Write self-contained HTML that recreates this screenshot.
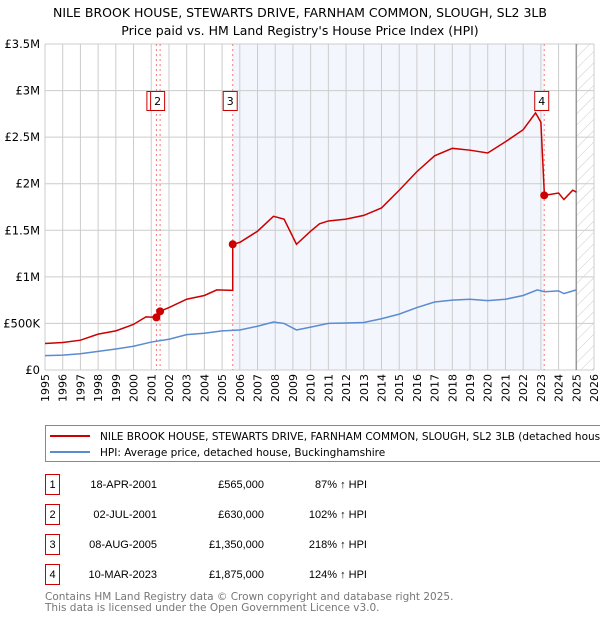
<!DOCTYPE html>
<html><head><meta charset="utf-8"><style>
body{margin:0;background:#fff;width:600px;height:620px;overflow:hidden;font-family:"DejaVu Sans","Liberation Sans",sans-serif;}
</style></head><body>
<svg id="chart" width="600" height="620" xmlns="http://www.w3.org/2000/svg" font-family="DejaVu Sans, Liberation Sans, sans-serif">
<defs><pattern id="hatch" width="8" height="8" patternUnits="userSpaceOnUse" patternTransform="rotate(45)"><line x1="0" y1="0" x2="0" y2="8" stroke="#ccc" stroke-width="1"/></pattern></defs>
<text x="300" y="17" font-size="12.5" text-anchor="middle" fill="#000">NILE BROOK HOUSE, STEWARTS DRIVE, FARNHAM COMMON, SLOUGH, SL2 3LB</text>
<text x="300" y="35" font-size="12.5" text-anchor="middle" fill="#000">Price paid vs. HM Land Registry's House Price Index (HPI)</text>
<g id="plot"></g>
<g>
<rect x="45.5" y="425.5" width="570" height="36" fill="#fff" stroke="#888"/>
<line x1="50" y1="436" x2="90" y2="436" stroke="#cc0000" stroke-width="2"/>
<text x="100" y="440" font-size="10.5">NILE BROOK HOUSE, STEWARTS DRIVE, FARNHAM COMMON, SLOUGH, SL2 3LB (detached house)</text>
<line x1="50" y1="452" x2="90" y2="452" stroke="#5b8bd0" stroke-width="2"/>
<text x="100" y="456" font-size="10.5">HPI: Average price, detached house, Buckinghamshire</text>
</g>
<g id="table" font-size="11" font-family="Liberation Sans, sans-serif"></g>
<text x="45" y="600" font-size="10.5" fill="#777">Contains HM Land Registry data © Crown copyright and database right 2025.</text>
<text x="45" y="611" font-size="10.5" fill="#777">This data is licensed under the Open Government Licence v3.0.</text>
</svg>
<script>
const hpiYears=[1995,1996,1997,1998,1999,2000,2001,2002,2003,2004,2005,2006,2007,2007.9,2008.5,2009.2,2010,2011,2012,2013,2014,2015,2016,2017,2018,2019,2020,2021,2022,2022.8,2023.2,2024,2024.3,2025];
const hpiValues=[155,160,175,200,225,255,300,330,380,395,420,430,470,515,500,430,460,500,505,510,550,600,670,730,750,760,745,760,800,860,840,850,820,860];
const redYears=[1995,1996,1997,1998,1999,2000,2000.7,2001.3,2001.5,2002,2003,2004,2004.7,2005.6,2005.6,2006,2007,2007.9,2008.5,2009.2,2010,2010.5,2011,2012,2013,2014,2015,2016,2017,2018,2019,2020,2021,2022,2022.7,2023.0,2023.2,2024,2024.3,2024.8,2025];
const redValues=[285,295,320,385,420,490,570,565,630,670,760,800,860,855,1350,1370,1490,1650,1620,1350,1490,1570,1600,1620,1660,1740,1930,2130,2300,2380,2360,2330,2450,2580,2760,2660,1875,1900,1830,1930,1910];
const saleLabels=["1","2","3","4"];
const saleYears=[2001.29,2001.5,2005.6,2023.19];
const saleValues=[565,630,1350,1875];
const saleDates=["18-APR-2001","02-JUL-2001","08-AUG-2005","10-MAR-2023"];
const salePrices=["£565,000","£630,000","£1,350,000","£1,875,000"];
const saleHpi=["87% ↑ HPI","102% ↑ HPI","218% ↑ HPI","124% ↑ HPI"];
const yTicks=[0,500,1000,1500,2000,2500,3000,3500];
const yTickLabels=["£0","£500K","£1M","£1.5M","£2M","£2.5M","£3M","£3.5M"];
const NS="http://www.w3.org/2000/svg";
const X0=45,X1=594,Y0=370,Y1=44;
const x=y=>X0+(y-1995)*(X1-X0)/31;
const yv=v=>Y0-v*(Y0-Y1)/3500;
const g=document.getElementById('plot');
function el(t,a,p){const e=document.createElementNS(NS,t);for(const k in a)e.setAttribute(k,a[k]);(p||g).appendChild(e);return e;}
let r=el('rect',{x:x(2005.6),y:Y1,width:x(2023.19)-x(2005.6),height:Y0-Y1,fill:'#f3f6fd'});


r=el('rect',{x:x(2025),y:Y1,width:X1-x(2025),height:Y0-Y1,fill:'url(#hatch)'});


for(let yr=1995;yr<=2026;yr++){
  let l=el('line',{x1:x(yr),x2:x(yr),y1:Y1,y2:Y0,stroke:'#ccc','stroke-width':1});
  
  
  const tx=x(yr)+4;
  let t=el('text',{x:tx,y:374,'font-size':11,'text-anchor':'end',transform:'rotate(-90 '+tx+' 374)'});
  
  
  t.textContent=yr;
}
yTicks.forEach((v,i)=>{
  let l=el('line',{x1:X0,x2:X1,y1:yv(v),y2:yv(v),stroke:'#ccc','stroke-width':1});
  
  
  let t=el('text',{x:40,y:yv(v)+4,'font-size':11.5,'text-anchor':'end'});
  
  
  t.textContent=yTickLabels[i];
});
let ax=el('line',{x1:x(2025),x2:x(2025),y1:Y1,y2:Y0,stroke:'#999','stroke-width':1.5});


saleYears.forEach((s,i)=>{
  let l=el('line',{x1:x(s),x2:x(s),y1:Y1,y2:Y0,stroke:'#f77','stroke-width':1,'stroke-dasharray':'2,3'});
  
  
});
let p=el('polyline',{points:hpiYears.map((a,i)=>x(a)+','+yv(hpiValues[i])).join(' '),fill:'none',stroke:'#5b8bd0','stroke-width':1.5});


p=el('polyline',{points:redYears.map((a,i)=>x(a)+','+yv(redValues[i])).join(' '),fill:'none',stroke:'#cc0000','stroke-width':1.5});


saleYears.forEach((s,i)=>{
  let c=el('circle',{cx:x(s),cy:yv(saleValues[i]),r:4,fill:'#cc0000'});
  
  
  let bx=el('rect',{x:x(s)-9.5,y:91.5,width:14,height:19,fill:'#fff',stroke:'#cc0000'});
  
  
  let t=el('text',{x:x(s)-2.5,y:105,'font-size':11,'text-anchor':'middle'});
  
  
  t.textContent=saleLabels[i];
});
const tb=document.getElementById('table');
saleLabels.forEach((s,i)=>{
  const y0=474+i*30;
  let b=el('rect',{x:45.5,y:y0+0.5,width:14,height:20,fill:'#fff',stroke:'#cc0000'},tb);
  
  
  const cells=[[52.5,'middle',s],[157,'end',saleDates[i]],[264,'end',salePrices[i]],[367,'end',saleHpi[i]]];
  cells.forEach(c=>{
    let t=el('text',{x:c[0],y:y0+14,'text-anchor':c[1]},tb);
    
    
    t.textContent=c[2];
  });
});
</script>
</body></html>
